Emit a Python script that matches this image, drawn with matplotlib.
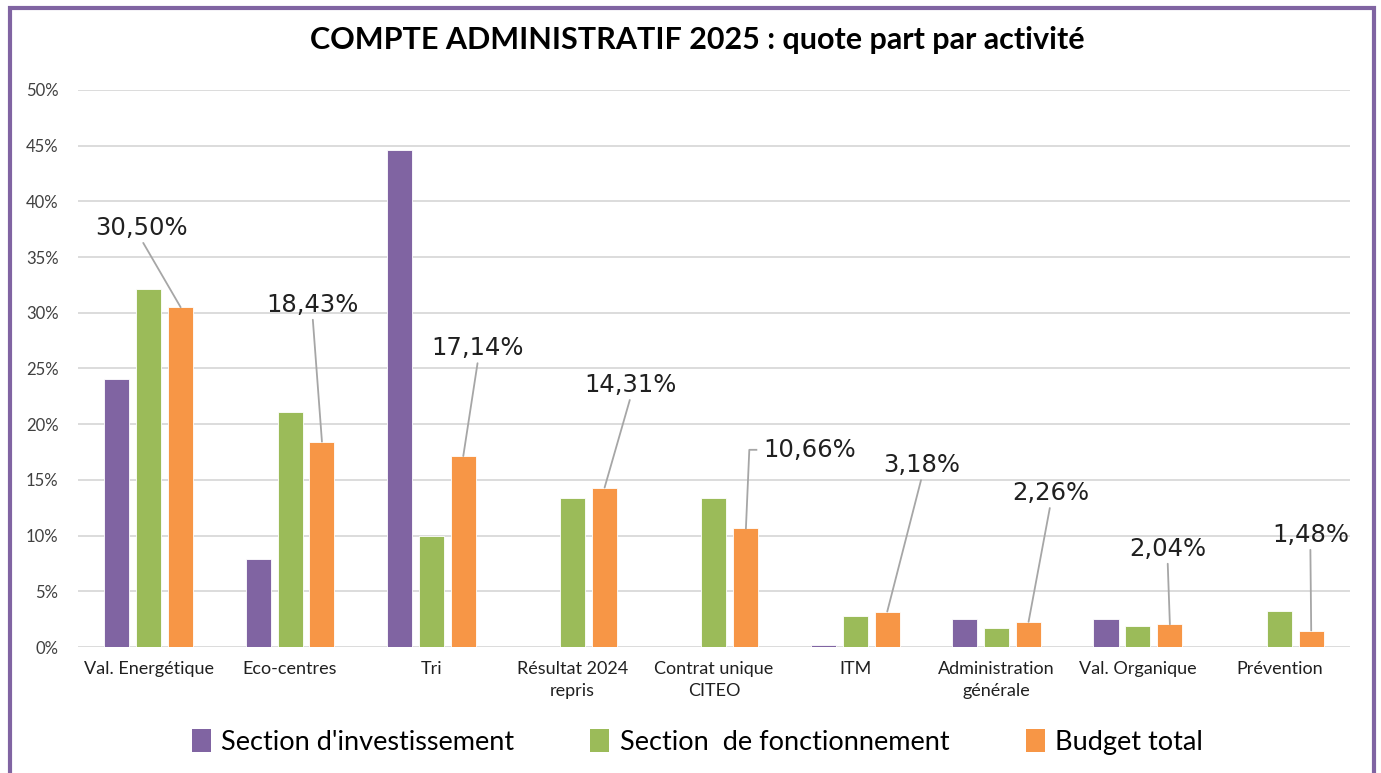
import numpy as np
import matplotlib
matplotlib.use('Agg')
import matplotlib.pyplot as plt
from matplotlib.patches import Patch, Rectangle

# data (percent)
categories = ['Val. Energétique', 'Eco-centres', 'Tri', 'Résultat 2024\nrepris', 'Contrat unique\nCITEO',
              'ITM', 'Administration\ngénérale', 'Val. Organique', 'Prévention']
investissement = [24.1, 7.9, 44.6, 0.0, 0.0, 0.15, 2.5, 2.5, 0.0]
fonctionnement = [32.1, 21.1, 10.0, 13.4, 13.4, 2.8, 1.7, 1.9, 3.2]
budget_total = [30.50, 18.43, 17.14, 14.31, 10.66, 3.18, 2.26, 2.04, 1.48]
series_names = ["Section d'investissement", 'Section  de fonctionnement', 'Budget total']
yticks = [0, 5, 10, 15, 20, 25, 30, 35, 40, 45, 50]

# where the data labels of the total budget sit (data coords)
label_pos = [(-0.05, 37.6), (1.16, 30.7), (2.33, 26.8), (3.41, 23.5), (4.68, 17.7),
             (5.47, 16.3), (6.38, 13.8), (7.21, 8.8), (8.22, 10.05)]

colors = ['#8064A2', '#9BBB59', '#F79646']
sans = ['Lato', 'DejaVu Sans']

fig = plt.figure(figsize=(13.81, 7.73), dpi=100)
ax = fig.add_axes([0.0565, 0.163, 0.921, 0.7206])

x = np.arange(len(categories))
w = 0.177
off = 0.226
for i, (vals, c) in enumerate(zip([investissement, fonctionnement, budget_total], colors)):
    ax.bar(x + (i - 1) * off, vals, width=w, color=c, edgecolor='white', linewidth=0.6, zorder=3)

ax.set_xlim(-0.5, len(categories) - 0.5)
ax.set_ylim(0, 50)
ax.set_yticks(yticks)
ax.set_yticklabels([f'{t}%' for t in yticks], family=sans, fontsize=12, color='#404040')
ax.set_xticks(x)
ax.set_xticklabels(categories, family=sans, fontsize=13, color='#202020', linespacing=1.45)
ax.tick_params(axis='y', length=0, pad=14)
ax.tick_params(axis='x', length=0, pad=10)
ax.grid(axis='y', color='#d9d9d9', linewidth=1.3, zorder=0)
for s in ax.spines.values():
    s.set_visible(False)

# data labels with leader lines
for i, (v, (tx, ty)) in enumerate(zip(budget_total, label_pos)):
    txt = f'{v:.2f}%'.replace('.', ',')
    if i == 4:
        ax.text(tx, ty, txt, ha='center', va='center', fontsize=17.5, family='DejaVu Sans', color='#202020')
        ax.plot([4.30, 4.25, i + off], [ty, ty, v], color='#a6a6a6', linewidth=1.3, zorder=4)
        continue
    ax.annotate(txt, xy=(i + off, v), xytext=(tx, ty), ha='center', va='center',
                fontsize=17.5, family='DejaVu Sans', color='#202020',
                arrowprops=dict(arrowstyle='-', color='#a6a6a6', linewidth=1.3,
                                shrinkA=0, shrinkB=0, relpos=(0.5, 0.0)))

fig.text(0.505, 0.948, 'COMPTE ADMINISTRATIF 2025 : quote part par activité', ha='center', va='center',
         fontsize=22, fontweight='bold', family=sans, color='black')

handles = [Patch(facecolor=c) for c in colors]
fig.legend(handles, series_names, loc='center', bbox_to_anchor=(0.505, 0.04), ncol=3, frameon=False,
           prop={'family': sans, 'size': 19.5}, handlelength=0.7, handleheight=0.9, handletextpad=0.4,
           columnspacing=2.8)

# purple frame around the chart area
fig.patches.append(Rectangle((0.0075, -0.05), 0.9875, 1.04, transform=fig.transFigure,
                             fill=False, edgecolor='#8064A2', linewidth=3))

fig.savefig('out.png', dpi=100, facecolor='white')
